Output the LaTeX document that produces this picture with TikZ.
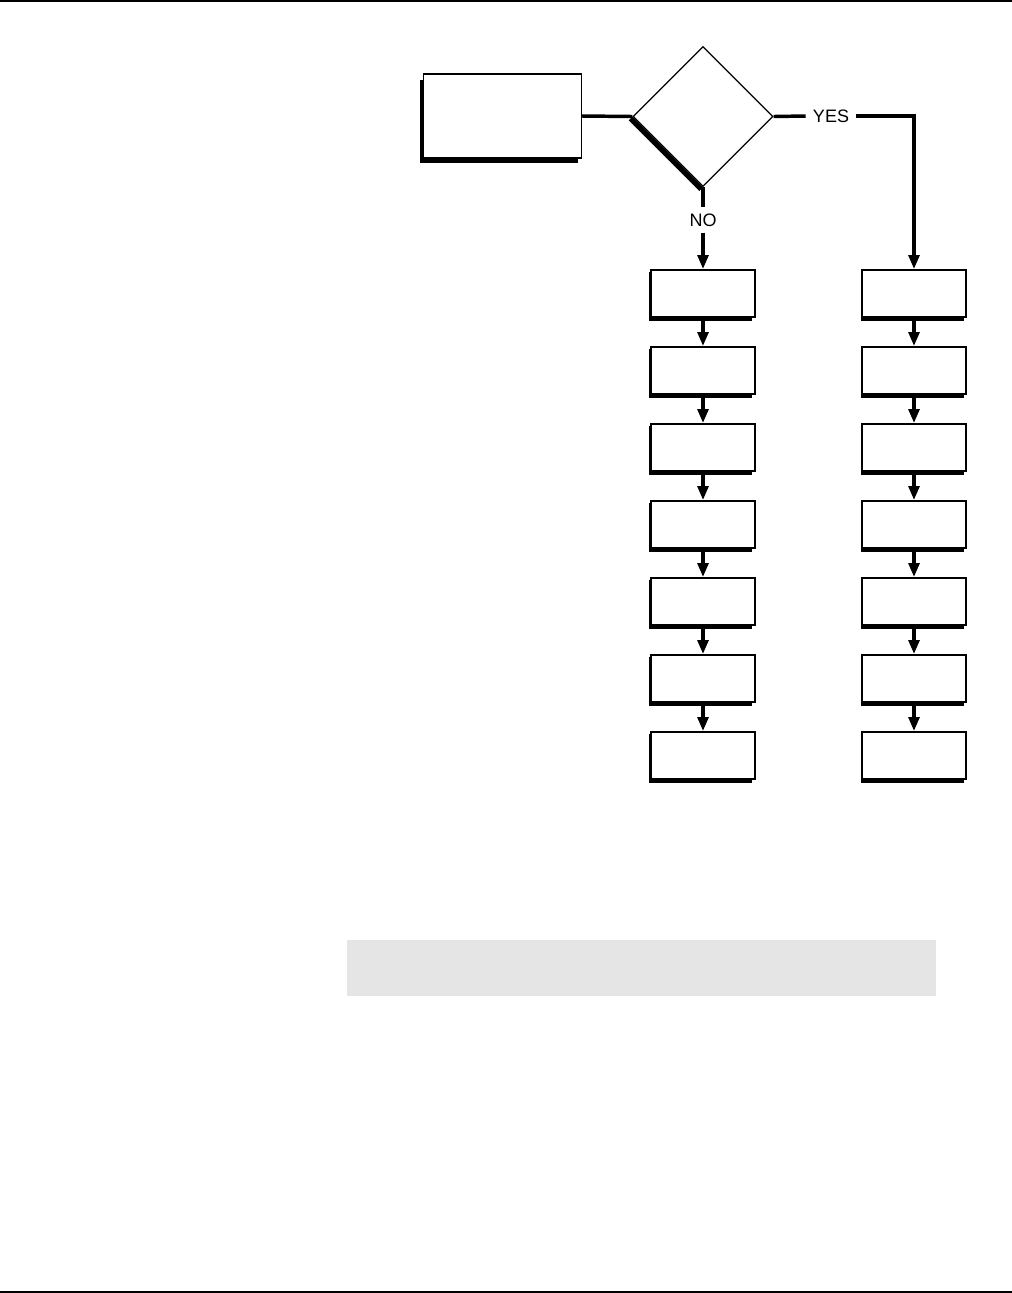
\documentclass[tikz,border=0pt]{standalone}
\usepackage{fontspec}
\setmainfont{Liberation Sans}
\usetikzlibrary{arrows.meta,shapes.geometric,calc}
\begin{document}
\begin{tikzpicture}[x=0.75pt,y=-0.75pt,
  stepbox/.style={draw=black,fill=white,line width=1.6pt,minimum width=78pt,minimum height=35pt,inner sep=0pt},
  conn/.style={line width=2.6pt},
  arr/.style={line width=2.6pt,-{Triangle[length=10.5pt,width=8pt]}},
  lbl/.style={font=\fontsize{13.5}{15}\selectfont,inner sep=0pt,fill=white}]
\useasboundingbox (0,0) rectangle (1012,1293);
% page rules
\draw[line width=1.2pt] (0,1) -- (1012,1);
\draw[line width=1.5pt] (0,1291.5) -- (1012,1291.5);
% start box with shadow
\fill[black] (420,80) rectangle (578,163);
\node[draw=black,fill=white,line width=0.8pt,minimum width=118pt,minimum height=63pt,inner sep=0pt] (start) at (502.5,116) {};
% decision diamond
\node[diamond,draw=black,fill=white,line width=1pt,aspect=1,minimum width=105pt,minimum height=105pt,inner sep=0pt] (dec) at (703,116.5) {};
\draw[line width=4pt] ($(dec.west)+(-1.8,2)$) -- ($(dec.south)+(-1.8,2)$);
\draw[conn] (start.east) -- (dec.west);
% labels
\node[lbl] (yes) at (831,116) {YES};
\node[lbl] (no) at (703,220) {NO};
% columns
\foreach \i/\y in {1/293.5,2/370.5,3/447.5,4/524.5,5/601.5,6/678.5,7/755.5}{
  \fill[black] (649,\y-22) rectangle (752,\y+27.5);
  \node[stepbox] (L\i) at (703,\y) {};
  \fill[black] (861,\y-22) rectangle (964,\y+27.5);
  \node[stepbox] (R\i) at (914,\y) {};
}
\draw[conn] (dec.east) -- ($(yes.west)+(-7,0)$);
\draw[arr] ($(yes.east)+(-0,0)$) ++(7,0) coordinate (ys) (ys) -| (R1.north);
\draw[conn] (dec.south) -- ($(no.north)+(0,-6)$);
\draw[arr] ($(no.south)+(0,6)$) -- (L1.north);
\foreach \a/\b in {1/2,2/3,3/4,4/5,5/6,6/7}{
  \draw[arr] (L\a.south) -- (L\b.north);
  \draw[arr] (R\a.south) -- (R\b.north);
}
% grey band
\fill[black!10] (347,940) rectangle (936,996);
\end{tikzpicture}
\end{document}
